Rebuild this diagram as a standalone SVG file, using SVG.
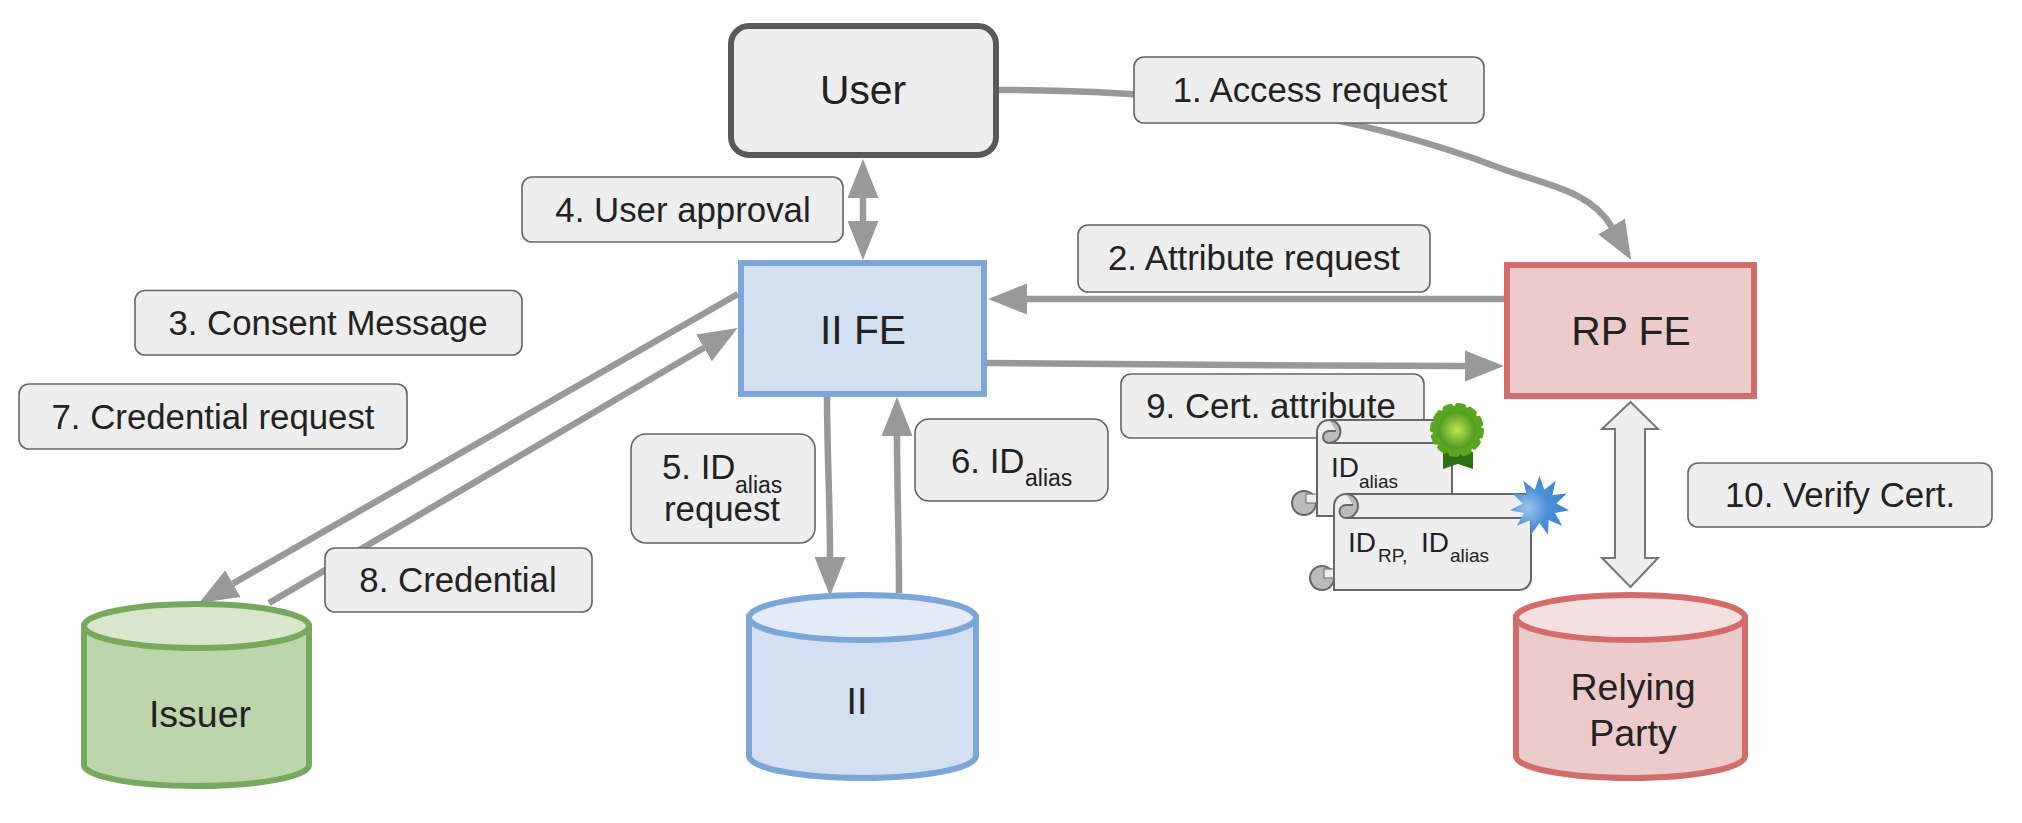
<svg xmlns="http://www.w3.org/2000/svg" width="2022" height="823" viewBox="0 0 2022 823">
<style>
text{font-family:"Liberation Sans",Arial,sans-serif;fill:#222;}
.t{font-size:34.8px;text-anchor:middle;}
.n{font-size:37.5px;text-anchor:middle;}
.u{font-size:40.8px;text-anchor:middle;}
.s{font-size:23px;}
.sm{font-size:28px;}
.ss{font-size:19px;}
.lab{fill:#eee;stroke:#666;stroke-width:1.6;}
.ln{fill:none;stroke:#999;stroke-width:6.5;}
.scr{fill:#eee;stroke:#666;stroke-width:2;}
.crl{fill:#bbb;stroke:#666;stroke-width:2;}
.nt{fill:#eee;stroke:#666;stroke-width:1;}
</style>
<defs>
<marker id="ah" markerUnits="userSpaceOnUse" markerWidth="40" markerHeight="32" refX="0" refY="16" orient="auto-start-reverse"><path d="M0,0.5 L39,16 L0,31.5 Z" fill="#999"/></marker>
<radialGradient id="gb"><stop offset="0" stop-color="#bfe44e"/><stop offset="1" stop-color="#4f9a20"/></radialGradient>
<radialGradient id="st" cx="0.3" cy="0.55" r="0.7"><stop offset="0" stop-color="#9cc5ec"/><stop offset="0.5" stop-color="#4b8fd6"/><stop offset="1" stop-color="#3f83cc"/></radialGradient>
</defs>
<g id="connectors">
<path class="ln" marker-end="url(#ah)" d="M997,90 C1060,90 1110,92 1170,97 C1290,106 1400,130 1500,168 C1545,185 1590,190 1611.5,226.5"/>
<path class="ln" marker-start="url(#ah)" marker-end="url(#ah)" d="M863,198 V221"/>
<path class="ln" marker-end="url(#ah)" d="M1505,299 H1027"/>
<path class="ln" marker-end="url(#ah)" d="M738,294 L232.9,583.6"/>
<path class="ln" marker-end="url(#ah)" d="M269,603 L704,347.8"/>
<path class="ln" marker-end="url(#ah)" d="M827,397 C827,450 830,500 830,557"/>
<path class="ln" marker-end="url(#ah)" d="M899,593 C899,530 897,490 897,436"/>
<path class="ln" marker-end="url(#ah)" d="M987,363 C1100,364 1300,366 1465,366"/>
</g>
<g id="user"><rect x="731" y="26" width="265" height="129" rx="18" fill="#eee" stroke="#595959" stroke-width="6"/><text class="u" x="863" y="104">User</text></g>
<g id="ii-fe"><rect x="741" y="263" width="243" height="131" fill="#d3e0f1" stroke="#7ba6d8" stroke-width="6"/><text class="u" x="863" y="344">II FE</text></g>
<g id="rp-fe"><rect x="1507" y="265" width="247" height="131" fill="#eccccb" stroke="#d26d6b" stroke-width="6"/><text class="u" x="1631" y="345">RP FE</text></g>
<g id="issuer"><path d="M84,626 V765 A112.5,21 0 0 0 309,765 V626 Z" fill="#bcd5aa" stroke="#76a85e" stroke-width="6"/><ellipse cx="196.5" cy="626" rx="112.5" ry="22" fill="#d9e6ce" stroke="#76a85e" stroke-width="6"/><text class="n" x="200" y="727">Issuer</text></g>
<g id="ii"><path d="M749,617.5 V756 A113.5,22 0 0 0 976,756 V617.5 Z" fill="#d3e0f1" stroke="#7ba6d8" stroke-width="6"/><ellipse cx="862.5" cy="617.5" rx="113.5" ry="22.5" fill="#e2ebf6" stroke="#7ba6d8" stroke-width="6"/><text class="n" x="857" y="714">II</text></g>
<g id="relying-party"><path d="M1516,617.5 V756 A114.5,22 0 0 0 1745,756 V617.5 Z" fill="#eccccb" stroke="#d26d6b" stroke-width="6"/><ellipse cx="1630.5" cy="617.5" rx="114.5" ry="22.5" fill="#f4e0df" stroke="#d26d6b" stroke-width="6"/><text class="n" x="1633" y="700">Relying<tspan x="1633" y="746">Party</tspan></text></g>
<g id="verify-arrow"><path d="M1630.5,402 L1658,429 H1645 V558 H1658 L1630.5,587 L1602,558 H1615 V429 H1602 Z" fill="#eee" stroke="#777" stroke-width="2"/></g>
<g id="label-1"><rect class="lab" x="1134" y="57" width="350" height="66" rx="10"/><text class="t" x="1310" y="102">1. Access request</text></g>
<g id="label-2"><rect class="lab" x="1078" y="225" width="352" height="67" rx="10"/><text class="t" x="1254" y="270">2. Attribute request</text></g>
<g id="label-3"><rect class="lab" x="135" y="290.5" width="387" height="64.5" rx="10"/><text class="t" x="328" y="335">3. Consent Message</text></g>
<g id="label-4"><rect class="lab" x="522" y="177" width="321" height="65" rx="10"/><text class="t" x="683" y="222">4. User approval</text></g>
<g id="label-5"><rect class="lab" x="631" y="434" width="184" height="109" rx="15"/><text style="font-size:34.8px" x="662" y="479">5. ID<tspan class="s" x="735" y="493">alias</tspan></text><text class="t" x="722" y="521">request</text></g>
<g id="label-6"><rect class="lab" x="915" y="419" width="193" height="82" rx="14"/><text style="font-size:34.8px" x="951" y="473">6. ID<tspan class="s" x="1025" y="486">alias</tspan></text></g>
<g id="label-7"><rect class="lab" x="19" y="384" width="388" height="65" rx="10"/><text class="t" x="213" y="429">7. Credential request</text></g>
<g id="label-8"><rect class="lab" x="325" y="548" width="267" height="64" rx="10"/><text class="t" x="458" y="592">8. Credential</text></g>
<g id="label-9"><rect class="lab" x="1121" y="374" width="303" height="64" rx="10"/><text class="t" x="1271" y="418">9. Cert. attribute</text></g>
<g id="label-10"><rect class="lab" x="1688" y="463" width="304" height="64" rx="10"/><text class="t" x="1840" y="507">10. Verify Cert.</text></g>
<g id="cert-alias">
<circle class="crl" cx="1304" cy="503" r="12"/>
<rect class="nt" x="1306" y="494" width="11" height="9"/>
<path class="scr" d="M1317,516 V432 A12,12 0 0 1 1329,420 H1452 V516 Z"/>
<path class="crl" d="M1329,420 A11.5,11.5 0 0 1 1329,443 A6,6 0 0 1 1329,431 H1336" />
<path d="M1329,443 H1445" fill="none" stroke="#666" stroke-width="2"/>
<text class="sm" x="1331" y="477">ID<tspan class="ss" x="1359" y="488">alias</tspan></text>
<path d="M1443,452 H1473 V469 L1458,464 L1443,469 Z" fill="#2f6f12"/>
<circle cx="1457" cy="430" r="24.5" fill="#5aa620" stroke="#5aa620" stroke-width="5" stroke-dasharray="6 6.8" stroke-linecap="round"/>
<circle cx="1457" cy="430" r="19" fill="url(#gb)"/>
</g>
<g id="cert-rp">
<circle class="crl" cx="1322" cy="578" r="12"/>
<rect class="nt" x="1324" y="569" width="11" height="9"/>
<path class="scr" d="M1334,590 V506 A12,12 0 0 1 1346,494 H1531 V578 A12,12 0 0 1 1519,590 Z"/>
<path class="crl" d="M1346,494 A11.5,11.5 0 0 1 1346,518 A6,6 0 0 1 1346,505 H1353"/>
<path d="M1346,518 H1525" fill="none" stroke="#666" stroke-width="2"/>
<text class="sm" x="1348" y="552">ID<tspan class="ss" x="1378" y="562">RP,</tspan><tspan x="1421" y="552">ID</tspan><tspan class="ss" x="1450" y="562">alias</tspan></text>
<polygon transform="translate(1539.5,506)" fill="url(#st)" points="0,-30 4.8,-16.3 16.2,-25.2 12.9,-11.1 27.3,-12.5 16.8,-2.4 29.7,4.3 15.5,7.1 22.7,19.7 9.2,14.3 8.5,28.8 0,17 -8.5,28.8 -9.2,14.3 -22.7,19.7 -15.5,7.1 -29.7,4.3 -16.8,-2.4 -27.3,-12.5 -12.9,-11.1 -16.2,-25.2 -4.8,-16.3"/>
</g>
</svg>
